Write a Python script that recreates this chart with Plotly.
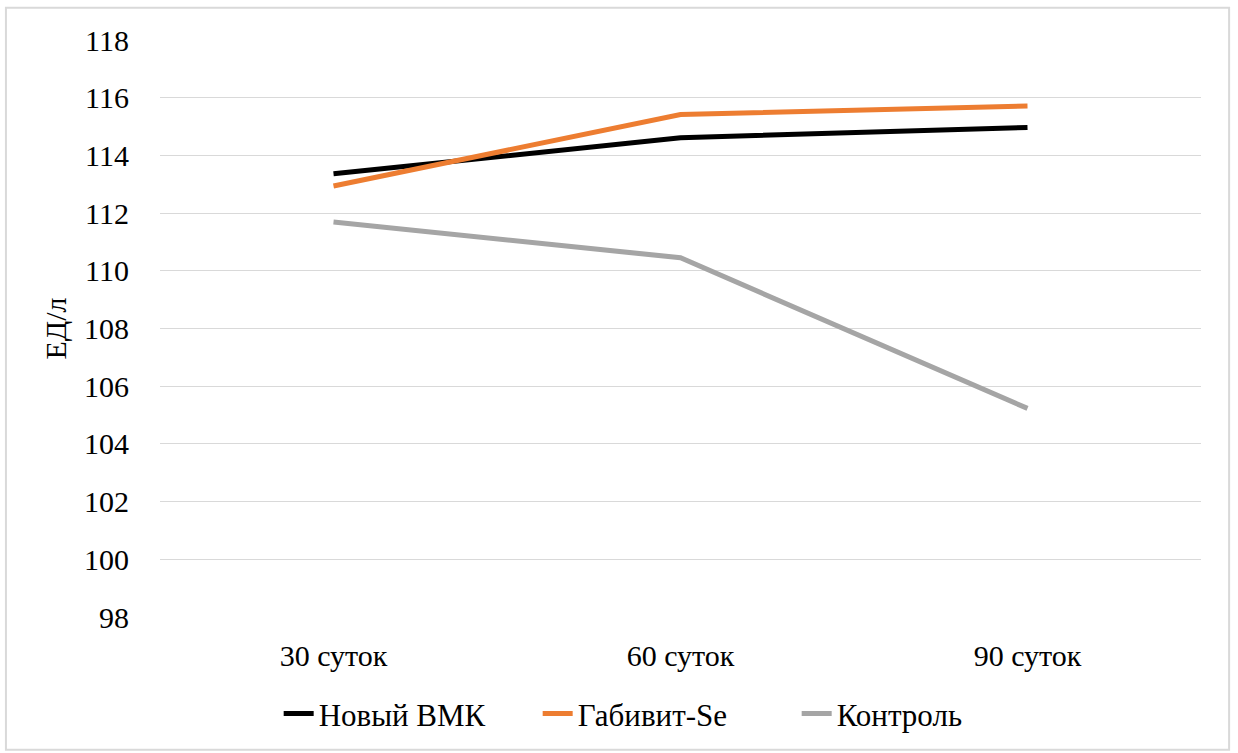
import plotly.graph_objects as go

categories = ["30 суток", "60 суток", "90 суток"]
novyi_vmk = [113.36, 114.61, 114.97]
gabivit_se = [112.94, 115.42, 115.71]
kontrol = [111.69, 110.45, 105.23]
y_ticks = [98, 100, 102, 104, 106, 108, 110, 112, 114, 116, 118]

series = [
    ("Новый ВМК", novyi_vmk, "#000000"),
    ("Габивит-Se", gabivit_se, "#ED7D31"),
    ("Контроль", kontrol, "#A5A5A5"),
]

fig = go.Figure()
for name, vals, color in series:
    fig.add_trace(go.Scatter(
        x=categories, y=vals, name=name, mode="lines",
        line=dict(color=color, width=5),
    ))

FONT = "Times New Roman, Tinos, Liberation Serif, DejaVu Serif, serif"
fig.update_layout(
    width=1238, height=753,
    margin=dict(l=160, r=37, t=40, b=133),
    paper_bgcolor="white", plot_bgcolor="white",
    font=dict(family=FONT, size=30, color="#000000"),
    showlegend=True,
    legend=dict(orientation="h", x=0.114, xanchor="left", y=-0.168, yanchor="middle",
                font=dict(family=FONT, size=31, color="#000000"),
                entrywidth=214, entrywidthmode="pixels", tracegroupgap=0),
    xaxis=dict(type="category", range=[-0.5, 2.5], showgrid=False, zeroline=False,
               showline=False, ticks="", ticklabelstandoff=18,
               tickfont=dict(family=FONT, size=30, color="#000000")),
    yaxis=dict(range=[98, 118], tickvals=y_ticks, showgrid=True, gridcolor="#D9D9D9",
               gridwidth=1.3, zeroline=False, showline=False, ticks="",
               tickfont=dict(family=FONT, size=30, color="#000000"), ticklabelstandoff=30,
               title=dict(text="ЕД/л", font=dict(family=FONT, size=30, color="#000000"), standoff=8)),
    shapes=[dict(type="rect", xref="paper", yref="paper",
                 x0=-0.148, x1=1.027, y0=-0.23, y1=1.056,
                 line=dict(color="#D9D9D9", width=2), fillcolor="rgba(0,0,0,0)", layer="below")],
)

fig.write_html("out.html", config={"displayModeBar": False},
               post_script="document.body.style.margin='0px';")
